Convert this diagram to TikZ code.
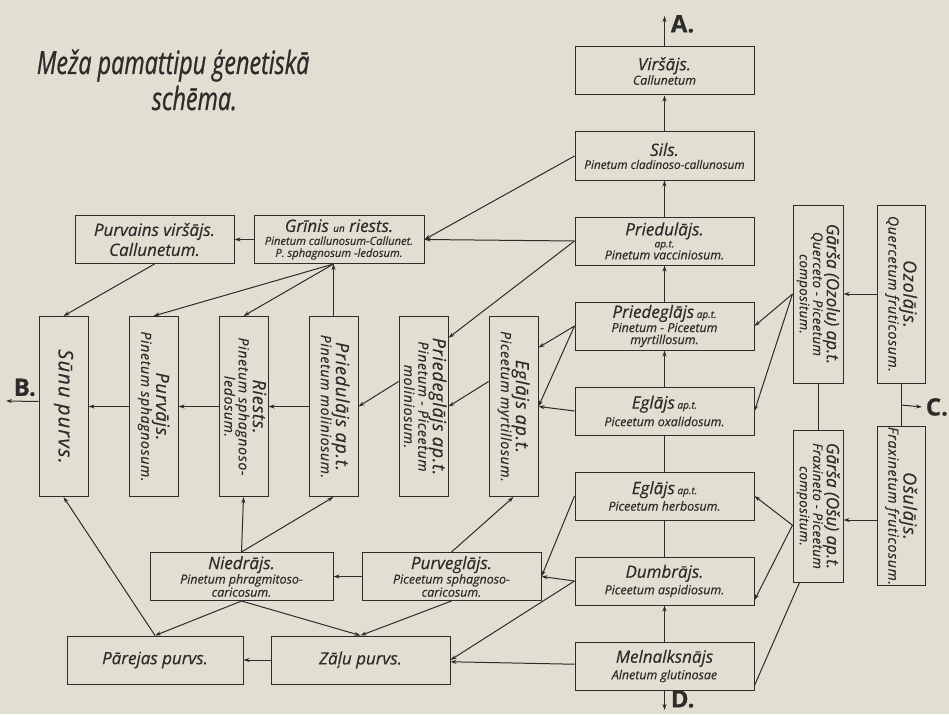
\documentclass[tikz,border=0pt]{standalone}
\usepackage{fontspec}
\setmainfont[FakeBold=0.4]{Open Sans}
\newfontfamily\titlefont[FakeStretch=0.73, FakeBold=0.8]{Open Sans}
\usetikzlibrary{arrows.meta, positioning, calc}
\definecolor{paper}{RGB}{226,222,210}
\definecolor{ink}{RGB}{44,44,42}
\newcommand{\tname}[1]{{\fontsize{17}{17}\selectfont #1}}
\newcommand{\tlat}[1]{{\fontsize{12.4}{13.6}\selectfont #1}}
\newcommand{\tsm}[1]{{\fontsize{10}{10}\selectfont #1}}
\newcommand{\vname}[1]{{\fontsize{18}{20}\selectfont\addfontfeature{LetterSpace=4} #1}}
\newcommand{\vlat}[1]{{\fontsize{14}{15}\selectfont\addfontfeature{LetterSpace=5} #1}}
\newcommand{\glat}[1]{{\fontsize{13.2}{13.6}\selectfont\addfontfeature{LetterSpace=3} #1}}
\newcommand{\vlabel}[1]{\rotatebox{-90}{\begin{tabular}{@{}c@{}}#1\end{tabular}}}
\tikzset{
  every picture/.style={line width=1pt, x=1pt, y=-1pt},
  box/.style={draw=ink, fill=paper, text=ink, font=\itshape, align=center, inner sep=0pt, minimum width=179pt, minimum height=48pt},
  vbox/.style={box, minimum width=49pt, minimum height=180pt},
  arrow/.style={-{Stealth[length=6pt, width=4pt]}, draw=ink, line width=1pt},
  link/.style={draw=ink, line width=1pt},
  letter/.style={text=ink, font=\bfseries\fontsize{24}{24}\selectfont},
}

\begin{document}
\begin{tikzpicture}
  \fill[paper] (0,0) rectangle (949,714);
  \useasboundingbox (0,0) rectangle (949,714);

  % title
  \node[anchor=base west, text=ink, font=\titlefont\itshape\fontsize{32}{32}\selectfont] (ttl1) at (33,74) {Meža pamattipu ģenetiskā};
  \node[anchor=base west, text=ink, font=\titlefont\itshape\fontsize{32}{32}\selectfont] (ttl2) at (148,110) {schēma.};

  % right column
  \node[box] (vir) at (664.5,71) {\tname{Viršājs.}\\\tlat{Callunetum}};
  \node[box, below=36pt of vir] (sils) {\tname{Sils.}\\[1pt]{\fontsize{11.8}{13}\selectfont Pinetum cladinoso-callunosum}};
  \node[box, below=36pt of sils] (pried) {\tname{Priedulājs.}\\\tsm{ap.t.}\\\tlat{Pinetum vacciniosum.}};
  \node[box, below=36pt of pried] (prieg) {\tname{Priedeglājs} \tsm{ap.t.}\\\tlat{Pinetum - Piceetum}\\\tlat{myrtillosum.}};
  \node[box, below=36pt of prieg] (eglox) {\tname{Eglājs} \tsm{ap.t.}\\[3pt]\tlat{Piceetum oxalidosum.}};
  \node[box, below=36pt of eglox] (eglherb) {\tname{Eglājs} \tsm{ap.t.}\\[2pt]\tlat{Piceetum herbosum.}};
  \node[box, below=36pt of eglherb] (dumb) {\tname{Dumbrājs.}\\[2pt]\tlat{Piceetum aspidiosum.}};
  \node[box, below=36pt of dumb] (meln) {\tname{Melnalksnājs}\\[2pt]\tlat{Alnetum glutinosae}};

  % oak and ash stands
  \node[box, minimum width=50pt, minimum height=178pt] (garsaoz) at (818,294) {\vlabel{\tname{Gārša (Ozolu) ap.t.}\\\glat{Querceto - Piceetum}\\\glat{compositum.}}};
  \node[box, minimum width=48pt, minimum height=178pt] (ozol) at (901,294) {\vlabel{\vname{Ozolājs.}\\\vlat{Quercetum fruticosum.}}};
  \node[box, minimum width=50pt, minimum height=152pt] (garsaos) at (818,506) {\vlabel{\tname{Gārša (Ošu) ap.t.}\\\glat{Fraxineto - Piceetum}\\\glat{compositum.}}};
  \node[box, minimum width=48pt, minimum height=152pt] (osul) at (901,506) {\vlabel{\vname{Ošulājs.}\\\vlat{Fraxinetum fruticosum.}}};

  % upper left
  \node[box, minimum width=159pt] (purvv) at (154.5,239.5) {\tname{Purvains viršājs.}\\[2pt]\tname{Callunetum.}};
  \node[box, minimum width=170pt, right=19pt of purvv] (grin) {\tname{Grīnis \tsm{un} riests.}\\[1pt]{\fontsize{11.2}{12.4}\selectfont Pinetum callunosum-Callunet.}\\{\fontsize{11.2}{12.4}\selectfont P. sphagnosum -ledosum.}};

  % vertical row
  \node[vbox] (sunu) at (63.5,406.5) {\vlabel{{\fontsize{20}{20}\selectfont\addfontfeature{LetterSpace=6}Sūnu purvs.}}};
  \node[vbox, right=40pt of sunu] (purv) {\vlabel{\vname{Purvājs.}\\\vlat{Pinetum sphagnosum.}}};
  \node[vbox, right=40pt of purv] (riests) {\vlabel{\vname{Riests.}\\\vlat{Pinetum sphagnoso-}\\\vlat{ledosum.}}};
  \node[vbox, right=40pt of riests] (priedm) {\vlabel{\vname{Priedulājs ap.t.}\\\vlat{Pinetum moliniosum.}}};
  \node[vbox, right=40pt of priedm] (priegm) {\vlabel{\vname{Priedeglājs ap.t.}\\\vlat{Pinetum - Piceetum}\\\vlat{moliniosum.}}};
  \node[vbox, right=40pt of priegm] (eglm) {\vlabel{\vname{Eglājs ap.t.}\\\vlat{Piceetum myrtillosum.}}};

  % lower rows
  \node[box, minimum width=183pt] (nied) at (241.5,576.5) {\tname{Niedrājs.}\\\tlat{Pinetum phragmitoso-}\\\tlat{caricosum.}};
  \node[box, right=28pt of nied] (purveg) {\tname{Purveglājs.}\\\tlat{Piceetum sphagnoso-}\\\tlat{caricosum.}};
  \node[box, minimum width=176pt] (parej) at (155,660) {\tname{Pārejas purvs.}};
  \node[box, right=27pt of parej] (zalu) {\tname{Zāļu purvs.}};

  % outward directions
  \coordinate (atip) at (664.5,16);
  \node[letter, anchor=west] (la) at (667,24) {A.};
  \coordinate (dtip) at (664.5,710);
  \node[letter, anchor=west] (ld) at (667,699) {D.};
  \coordinate (btip) at (6,401);
  \node[letter, anchor=south west] (lb) at (10,400) {B.};
  \coordinate (cmid) at ($(ozol.south)!0.5!(osul.north)$);
  \node[letter, anchor=west] (lc) at (922,407) {C.};

  \draw[arrow] (vir.north) -- (atip);
  \draw[arrow] (meln.south) -- (dtip);
  \draw[arrow] ([yshift=5pt]sunu.west) -- (btip);
  \draw[arrow] (cmid) -- (lc.west);

  % right column links
  \draw[arrow] (sils) -- (vir);
  \draw[arrow] (pried) -- (sils);
  \draw[arrow] (prieg) -- (pried);
  \draw[arrow] (eglox) -- (prieg);
  \draw[link] (eglherb) -- (eglox);
  \draw[link] (dumb) -- (eglherb);
  \draw[arrow] (meln) -- (dumb);

  % oak and ash links
  \draw[arrow] (ozol) -- (garsaoz);
  \draw[arrow] ([yshift=-14pt]osul.west) -- ([yshift=-14pt]garsaos.east);
  \draw[link] (garsaoz) -- (garsaos);
  \draw[link] (ozol) -- (osul);
  \draw[arrow] (garsaoz.west) -- (prieg.east);
  \draw[arrow] (garsaoz.west) -- (eglox.east);
  \draw[arrow] (garsaos.217) -- (eglherb.east);
  \draw[arrow] (garsaos.217) -- (dumb.-12);
  \draw[link] ([yshift=5pt]meln.south east) -- ([xshift=7pt]garsaos.south west);

  % upper left links
  \draw[arrow] (sils.west) -- (grin.east);
  \draw[arrow] (pried.west) -- (grin.east);
  \draw[arrow] (grin) -- (purvv);
  \draw[arrow] (purvv.south) -- (sunu.north);
  \coordinate (gfoot) at (grin.south -| priedm.north);
  \draw[arrow] (gfoot) -- (purv.north);
  \draw[arrow] (gfoot) -- (riests.north);
  \draw[arrow] (priedm.north) -- (gfoot);

  % vertical row links
  \draw[arrow] (pried.west) -- (priegm.70);
  \draw[arrow] (prieg.west) -- (eglm.67);
  \draw[arrow] (prieg.west) -- (eglm.east);
  \draw[arrow] (eglox.west) -- (eglm.east);
  \draw[arrow] (eglm.135) -- (priegm.east);
  \draw[arrow] (priegm.135) -- (priedm.east);
  \draw[arrow] (priedm.west) -- (riests.east);
  \draw[arrow] (riests.west) -- (purv.east);
  \draw[arrow] (purv.west) -- (sunu.east);

  % lower links
  \draw[arrow] (dumb.west) -- (purveg.east);
  \draw[arrow] (eglherb.west) -- (purveg.east);
  \draw[arrow] (dumb.west) -- (zalu.east);
  \draw[arrow] (purveg) -- (nied);
  \draw[arrow] (nied.north) -- (riests.south);
  \draw[arrow] (nied.north) -- (priedm.south);
  \draw[arrow] (purveg.north) -- (eglm.south);
  \draw[arrow] (nied.south) -- (parej.north);
  \draw[arrow] (nied.south) -- (zalu.north);
  \draw[arrow] (purveg.south) -- (zalu.north);
  \draw[arrow] (parej.north) -- (sunu.south);
  \draw[arrow] (zalu) -- (parej);
  \draw[arrow] (meln) -- (zalu);
\end{tikzpicture}
\end{document}
